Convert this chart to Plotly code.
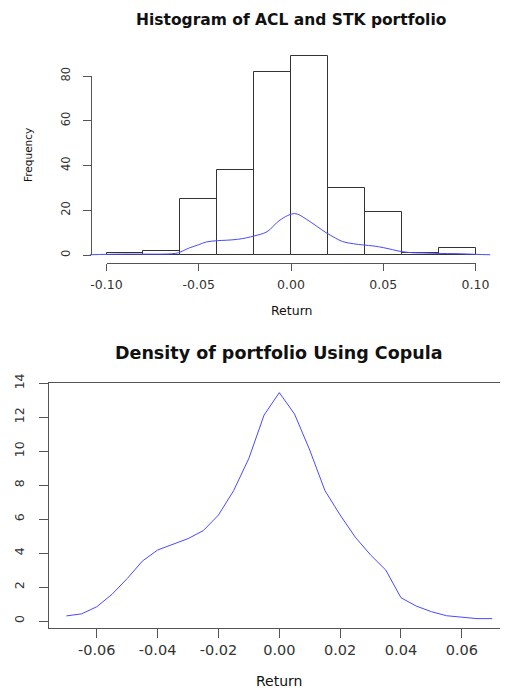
import plotly.graph_objects as go

# ---------------- data ----------------
bin_left = [-0.10, -0.08, -0.06, -0.04, -0.02, 0.00, 0.02, 0.04, 0.06, 0.08]
bin_width = 0.02
freq = [1, 2, 25, 38, 82, 89, 30, 19, 1, 3]

hist_dens_x = [-0.109, -0.100, -0.090, -0.080, -0.070, -0.064, -0.061, -0.055, -0.050, -0.046,
               -0.040, -0.035, -0.029, -0.024, -0.020, -0.013, -0.006, 0.002, 0.0085, 0.014,
               0.019, 0.024, 0.028, 0.034, 0.039, 0.045, 0.050, 0.055, 0.060, 0.066,
               0.072, 0.080, 0.090, 0.100, 0.108]
hist_dens_y = [0.1, 0.3, 0.4, 0.4, 0.4, 0.6, 1.0, 3.2, 4.6, 5.8,
               6.4, 6.6, 7.0, 7.7, 8.5, 10.4, 15.6, 18.5, 15.9, 12.8,
               10.0, 7.6, 6.0, 5.0, 4.5, 4.0, 3.3, 2.4, 1.5, 1.0,
               0.9, 0.7, 0.6, 0.3, 0.1]

cop_x = [-0.070, -0.065, -0.060, -0.055, -0.050, -0.045, -0.040, -0.035, -0.030, -0.025,
         -0.020, -0.015, -0.010, -0.005, 0.000, 0.005, 0.010, 0.015, 0.020, 0.025,
         0.030, 0.035, 0.040, 0.045, 0.050, 0.055, 0.060, 0.065, 0.070]
cop_y = [0.30, 0.42, 0.84, 1.57, 2.50, 3.53, 4.18, 4.51, 4.85, 5.32,
         6.24, 7.68, 9.58, 12.13, 13.45, 12.19, 10.07, 7.68, 6.24, 4.93,
         3.89, 3.00, 1.37, 0.88, 0.55, 0.31, 0.22, 0.14, 0.14]

top_xticks = [-0.10, -0.05, 0.00, 0.05, 0.10]
top_xtext = ["-0.10", "-0.05", "0.00", "0.05", "0.10"]
top_yticks = [0, 20, 40, 60, 80]
bot_xticks = [-0.06, -0.04, -0.02, 0.00, 0.02, 0.04, 0.06]
bot_xtext = ["-0.06", "-0.04", "-0.02", "0.00", "0.02", "0.04", "0.06"]
bot_yticks = [0, 2, 4, 6, 8, 10, 12, 14]

# ---------------- geometry helpers ----------------
W, H = 508, 688
OFF = 8  # page body margin
def px(x):
    return (x - OFF) / W
def py(y):
    return 1 - (y - OFF) / H

# top panel pixel mapping
TX0, TXS = 291.0, 1845.0      # px of x=0, px per unit
TY0, TYS = 255.0, 179.0 / 80  # px of y=0, px per unit
# bottom panel pixel mapping
BX0, BXS = 279.3, 3042.0
BY0, BYS = 621.0, 16.98

FONT = "DejaVu Sans"
AX = "#555555"
TXT = "#333333"

fig = go.Figure()

centers = [b + bin_width / 2 for b in bin_left]
fig.add_trace(go.Bar(x=centers, y=freq, width=[bin_width] * len(freq),
                     marker=dict(color="white", line=dict(color="#333333", width=1)),
                     xaxis="x", yaxis="y", showlegend=False, hoverinfo="skip"))
fig.add_trace(go.Scatter(x=hist_dens_x, y=hist_dens_y, mode="lines",
                         line=dict(color="#4a4aff", width=1, shape="spline"),
                         xaxis="x", yaxis="y", showlegend=False, hoverinfo="skip"))
# anchor trace for the R-style detached axes
fig.add_trace(go.Scatter(x=[], y=[], xaxis="x3", yaxis="y3", showlegend=False))

fig.add_trace(go.Scatter(x=cop_x, y=cop_y, mode="lines",
                         line=dict(color="#4a4aff", width=1),
                         xaxis="x2", yaxis="y2", showlegend=False, hoverinfo="skip"))

tickfont_top = dict(family=FONT, size=12.5, color=TXT)
tickfont_bot = dict(family=FONT, size=14.5, color=TXT)

XR = W + OFF  # right edge of the figure in screen px

fig.update_layout(
    width=W, height=H,
    margin=dict(l=0, r=0, t=0, b=0, pad=0, autoexpand=False),
    paper_bgcolor="white", plot_bgcolor="rgba(0,0,0,0)",
    bargap=0, showlegend=False,
    xaxis=dict(domain=[px(85), px(500)],
               range=[(85 - TX0) / TXS, (500 - TX0) / TXS],
               visible=False, anchor="y", automargin=False),
    yaxis=dict(domain=[py(275), py(40)],
               range=[(TY0 - 275) / TYS, (TY0 - 40) / TYS],
               visible=False, anchor="x", automargin=False),
    xaxis3=dict(domain=[px(TX0 - 0.1 * TXS), px(TX0 + 0.1 * TXS)],
                range=[-0.1, 0.1], anchor="free", position=py(263.3),
                showline=True, linecolor=AX, linewidth=1,
                ticks="outside", ticklen=7, tickcolor=AX, tickwidth=1,
                tickvals=top_xticks, ticktext=top_xtext, tickfont=tickfont_top,
                ticklabelstandoff=3, automargin=False,
                showgrid=False, zeroline=False, fixedrange=True),
    yaxis3=dict(domain=[py(TY0), py(TY0 - 80 * TYS)],
                range=[0, 80], anchor="free", position=px(91),
                showline=True, linecolor=AX, linewidth=1,
                ticks="outside", ticklen=8, tickcolor=AX, tickwidth=1,
                tickvals=top_yticks, tickangle=-90,
                tickfont=dict(family=FONT, size=11.5, color=TXT),
                ticklabelstandoff=8, automargin=False,
                showgrid=False, zeroline=False, fixedrange=True),
    xaxis2=dict(domain=[px(49), 1.0],
                range=[(49 - BX0) / BXS, (XR - BX0) / BXS],
                anchor="y2", showline=True, mirror=True, linecolor=AX, linewidth=1,
                ticks="outside", ticklen=9, tickcolor=AX, tickwidth=1,
                tickvals=bot_xticks, ticktext=bot_xtext, tickfont=tickfont_bot,
                automargin=False, showgrid=False, zeroline=False),
    yaxis2=dict(domain=[py(628), py(382.7)],
                range=[(BY0 - 628) / BYS, (BY0 - 382.7) / BYS],
                anchor="x2", showline=True, linecolor=AX, linewidth=1,
                ticks="outside", ticklen=9, tickcolor=AX, tickwidth=1,
                tickvals=bot_yticks, tickangle=-90,
                tickfont=dict(family=FONT, size=12.5, color=TXT),
                ticklabelstandoff=10, automargin=False,
                showgrid=False, zeroline=False),
)

def ann(text, x, y, size, bold=False, angle=0):
    fig.add_annotation(text=f"<b>{text}</b>" if bold else text,
                       x=px(x), y=py(y), xref="paper", yref="paper",
                       showarrow=False, textangle=angle,
                       xanchor="center", yanchor="middle",
                       font=dict(family=FONT, size=size, color="#111111"))

ann("Histogram of ACL and STK portfolio", 290.5, 20, 15.5, bold=True)
ann("Frequency", 28, 155, 10.5, angle=-90)
ann("Return", 291, 310, 12.5)
ann("Density of portfolio Using Copula", 278.5, 353, 17.5, bold=True)
ann("Return", 279, 681, 14)

fig.write_html("out.html")
